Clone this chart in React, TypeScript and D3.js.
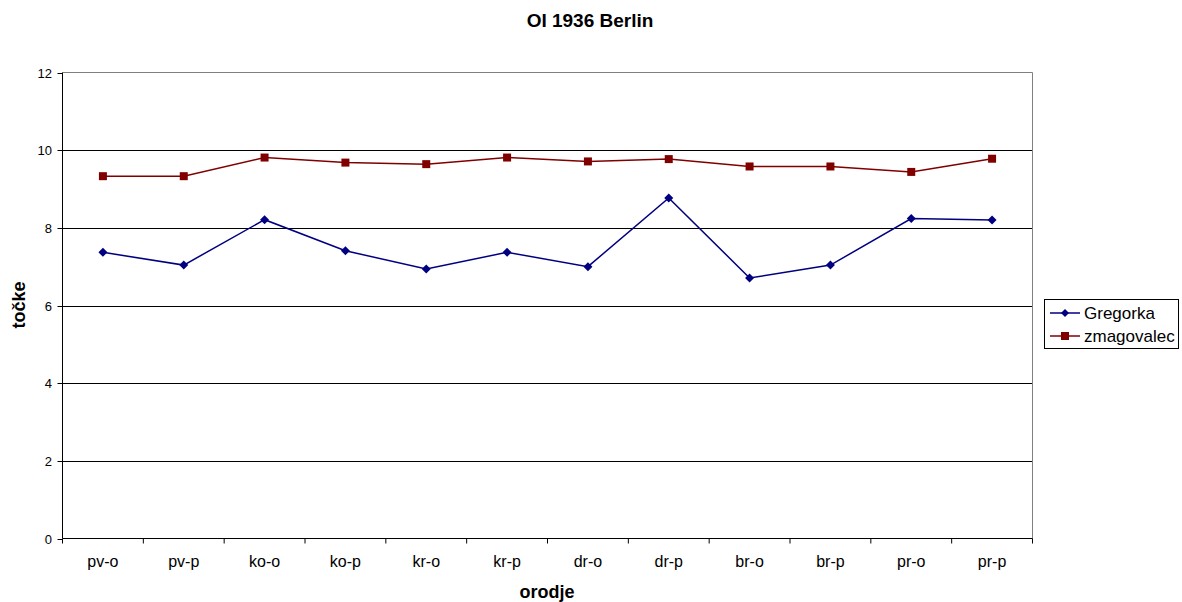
import React, { useEffect, useRef } from "react";
import * as d3 from "d3";

const categories = ["pv-o", "pv-p", "ko-o", "ko-p", "kr-o", "kr-p", "dr-o", "dr-p", "br-o", "br-p", "pr-o", "pr-p"];
const gregorka = [7.37, 7.04, 8.21, 7.41, 6.94, 7.37, 7.0, 8.77, 6.71, 7.04, 8.24, 8.2];
const zmagovalec = [9.33, 9.33, 9.81, 9.68, 9.64, 9.81, 9.71, 9.77, 9.58, 9.58, 9.44, 9.78];
const yTicks = [0, 2, 4, 6, 8, 10, 12];
const seriesNames = ["Gregorka", "zmagovalec"];
const seriesColors = ["#000080", "#800000"];

const W = 1182, H = 602;
const L = 62.5, R = 1032.5, T = 72.5, B = 538.5;
const FONT = "'Liberation Sans', Arial, sans-serif";

export default function App() {
  const ref = useRef<SVGSVGElement>(null);
  useEffect(() => {
    const svg = d3.select(ref.current);
    svg.selectAll("*").remove();
    const x = d3.scaleBand().domain(categories).range([L, R]).padding(0);
    const y = d3.scaleLinear().domain([0, 12]).range([B, T]);

    svg.append("rect").attr("width", W).attr("height", H).attr("fill", "#fff");

    // gridlines
    svg.append("g").selectAll("line").data(yTicks.filter(t => t > 0 && t < 12)).join("line")
      .attr("x1", L).attr("x2", R).attr("y1", d => Math.round(y(d)) + 0.5).attr("y2", d => Math.round(y(d)) + 0.5)
      .attr("stroke", "#000").attr("stroke-width", 1);
    // plot border (top/right)
    svg.append("path").attr("d", `M${L},${T}H${R}V${B}`).attr("fill", "none").attr("stroke", "#808080");

    // y axis
    svg.append("line").attr("x1", L).attr("x2", L).attr("y1", T).attr("y2", B).attr("stroke", "#000");
    const yg = svg.append("g");
    yTicks.forEach(t => {
      const yy = Math.round(y(t)) + 0.5;
      yg.append("line").attr("x1", L - 5).attr("x2", L).attr("y1", yy).attr("y2", yy).attr("stroke", "#000");
      yg.append("text").attr("x", 52).attr("y", yy).attr("dy", "0.35em").attr("text-anchor", "end")
        .attr("font-family", FONT).attr("font-size", 13).text(t);
    });

    // x axis
    svg.append("line").attr("x1", L).attr("x2", R).attr("y1", B).attr("y2", B).attr("stroke", "#000");
    const xg = svg.append("g");
    categories.forEach((c, i) => {
      const x0 = x(c)!;
      xg.append("line").attr("x1", x0).attr("x2", x0).attr("y1", B).attr("y2", B + 5).attr("stroke", "#000");
      if (i === categories.length - 1) {
        xg.append("line").attr("x1", R).attr("x2", R).attr("y1", B).attr("y2", B + 5).attr("stroke", "#000");
      }
      xg.append("text").attr("x", x0 + x.bandwidth() / 2).attr("y", 567).attr("text-anchor", "middle")
        .attr("font-family", FONT).attr("font-size", 16).text(c);
    });

    const cx = (c: string) => x(c)! + x.bandwidth() / 2;
    const line = d3.line<number>().x((_, i) => cx(categories[i])).y(d => y(d));

    [gregorka, zmagovalec].forEach((vals, si) => {
      const col = seriesColors[si];
      svg.append("path").attr("d", line(vals)!).attr("fill", "none").attr("stroke", col).attr("stroke-width", 1.5);
      const g = svg.append("g");
      vals.forEach((v, i) => {
        const px = cx(categories[i]), py = y(v);
        if (si === 0) {
          g.append("path").attr("d", `M${px},${py - 4.5}L${px + 4.5},${py}L${px},${py + 4.5}L${px - 4.5},${py}Z`).attr("fill", col);
        } else {
          g.append("rect").attr("x", px - 4).attr("y", py - 4).attr("width", 8).attr("height", 8).attr("fill", col);
        }
      });
    });

    // titles
    svg.append("text").attr("x", 590).attr("y", 27).attr("text-anchor", "middle").attr("font-family", FONT)
      .attr("font-size", 19).attr("font-weight", "bold").text("OI 1936 Berlin");
    svg.append("text").attr("x", 547).attr("y", 598).attr("text-anchor", "middle").attr("font-family", FONT)
      .attr("font-size", 18).attr("font-weight", "bold").text("orodje");
    svg.append("text").attr("transform", `translate(25,305) rotate(-90)`).attr("text-anchor", "middle")
      .attr("font-family", FONT).attr("font-size", 18).attr("font-weight", "bold").text("točke");

    // legend
    const lg = svg.append("g");
    lg.append("rect").attr("x", 1044.5).attr("y", 299.5).attr("width", 134).attr("height", 49)
      .attr("fill", "#fff").attr("stroke", "#000");
    seriesNames.forEach((n, i) => {
      const ly = 313 + i * 23;
      lg.append("line").attr("x1", 1050).attr("x2", 1080).attr("y1", ly).attr("y2", ly).attr("stroke", seriesColors[i]).attr("stroke-width", 1.5);
      if (i === 0) {
        lg.append("path").attr("d", `M1065,${ly - 4}L1069,${ly}L1065,${ly + 4}L1061,${ly}Z`).attr("fill", seriesColors[i]);
      } else {
        lg.append("rect").attr("x", 1061).attr("y", ly - 4).attr("width", 8).attr("height", 8).attr("fill", seriesColors[i]);
      }
      lg.append("text").attr("x", 1084).attr("y", ly).attr("dy", "0.35em").attr("font-family", FONT)
        .attr("font-size", 17).text(n);
    });
  }, []);
  return <svg ref={ref} width={W} height={H} style={{ position: "absolute", left: 0, top: 0 }} />;
}
